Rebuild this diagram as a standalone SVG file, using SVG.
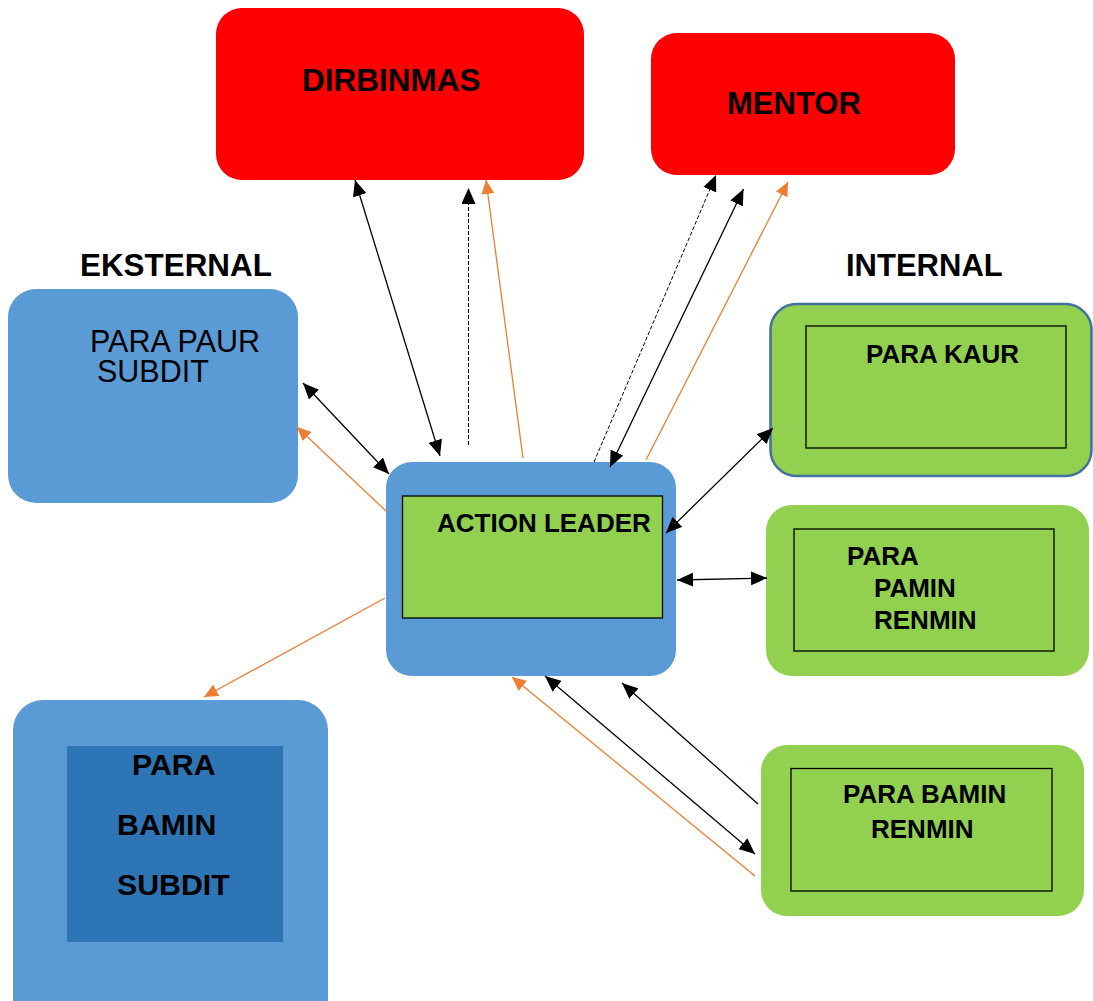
<svg xmlns="http://www.w3.org/2000/svg" width="1093" height="1001" viewBox="0 0 1093 1001">
<style>
text{font-family:"Liberation Sans",Arial,sans-serif;fill:#000}
.b{font-weight:bold}
.red{fill:#FF0000}
.blue{fill:#5B9BD5}
.green{fill:#92D050}
.inner{fill:#92D050;stroke:#000;stroke-width:1.3}
.k{stroke:#000;stroke-width:1.3;fill:none}
.d{stroke:#000;stroke-width:1;fill:none;stroke-dasharray:4 2}
.o{stroke:#ED7D31;stroke-width:1.3;fill:none}
</style>
<defs>
<marker id="ak" markerUnits="userSpaceOnUse" markerWidth="17" markerHeight="14" refX="16" refY="7" orient="auto-start-reverse"><path d="M0,0 L16,7 L0,14 z" fill="#000"/></marker>
<marker id="ao" markerUnits="userSpaceOnUse" markerWidth="15" markerHeight="13" refX="14" refY="6.5" orient="auto-start-reverse"><path d="M0,0 L14,6.5 L0,13 z" fill="#ED7D31"/></marker>
</defs>
<rect width="1093" height="1001" fill="#fff"/>
<g id="label-eksternal"><text class="b" x="80" y="276" font-size="31.4">EKSTERNAL</text></g>
<g id="label-internal"><text class="b" x="846" y="276" font-size="31">INTERNAL</text></g>
<g id="dirbinmas">
<rect class="red" x="216" y="8" width="368" height="172" rx="26"/>
<text class="b" x="302" y="91" font-size="31.5">DIRBINMAS</text>
</g>
<g id="mentor">
<rect class="red" x="651" y="33" width="304" height="142" rx="26"/>
<text class="b" x="727" y="114" font-size="31">MENTOR</text>
</g>
<g id="para-paur-subdit">
<rect class="blue" x="8" y="289" width="290" height="214" rx="28"/>
<text x="90" y="352" font-size="30.5">PARA PAUR</text>
<text x="97" y="382" font-size="30.5">SUBDIT</text>
</g>
<g id="para-bamin-subdit">
<rect class="blue" x="13" y="700" width="315" height="330" rx="30"/>
<rect x="67" y="746" width="216" height="196" fill="#2E75B6"/>
<text class="b" x="132" y="775" font-size="30.3">PARA</text>
<text class="b" x="117" y="835" font-size="30.3">BAMIN</text>
<text class="b" x="117" y="895" font-size="30.3">SUBDIT</text>
</g>
<g id="action-leader">
<rect class="blue" x="386" y="462" width="290" height="214" rx="26"/>
<rect class="inner" x="402.5" y="496" width="260" height="122"/>
<text class="b" x="437" y="532" font-size="26">ACTION LEADER</text>
</g>
<g id="para-kaur">
<rect class="green" x="770.5" y="304" width="321" height="172" rx="26" stroke="#41719C" stroke-width="2.5"/>
<rect class="inner" x="806" y="326" width="260" height="122"/>
<text class="b" x="866" y="363" font-size="26">PARA KAUR</text>
</g>
<g id="para-pamin-renmin">
<rect class="green" x="766" y="505" width="323" height="171" rx="26"/>
<rect class="inner" x="794" y="529" width="260" height="122"/>
<text class="b" x="847" y="565" font-size="26">PARA</text>
<text class="b" x="874" y="597" font-size="26">PAMIN</text>
<text class="b" x="874" y="629" font-size="26">RENMIN</text>
</g>
<g id="para-bamin-renmin">
<rect class="green" x="761" y="745" width="323" height="171" rx="26"/>
<rect class="inner" x="791" y="768.5" width="261" height="122.5"/>
<text class="b" x="843" y="803" font-size="26">PARA BAMIN</text>
<text class="b" x="871" y="838" font-size="26">RENMIN</text>
</g>
<g id="connectors">
<line class="k" x1="355" y1="180" x2="440" y2="456" marker-start="url(#ak)" marker-end="url(#ak)"/>
<line class="d" x1="468.5" y1="445" x2="468.5" y2="188" marker-end="url(#ak)"/>
<line class="o" x1="523" y1="458" x2="486" y2="180" marker-end="url(#ao)"/>
<line class="d" x1="594" y1="462" x2="716" y2="175" marker-end="url(#ak)"/>
<line class="k" x1="610" y1="467" x2="743.5" y2="189" marker-start="url(#ak)" marker-end="url(#ak)"/>
<line class="o" x1="646" y1="460" x2="788" y2="182" marker-end="url(#ao)"/>
<line class="k" x1="303" y1="383" x2="389" y2="474" marker-start="url(#ak)" marker-end="url(#ak)"/>
<line class="o" x1="386" y1="511" x2="297" y2="427" marker-end="url(#ao)"/>
<line class="o" x1="385" y1="598" x2="204" y2="697" marker-end="url(#ao)"/>
<line class="k" x1="773" y1="428" x2="666" y2="533" marker-start="url(#ak)" marker-end="url(#ak)"/>
<line class="k" x1="677" y1="580" x2="767" y2="578" marker-start="url(#ak)" marker-end="url(#ak)"/>
<line class="o" x1="755" y1="876" x2="512" y2="677" marker-end="url(#ao)"/>
<line class="k" x1="545" y1="676" x2="755" y2="854" marker-start="url(#ak)" marker-end="url(#ak)"/>
<line class="k" x1="758" y1="804" x2="622" y2="683" marker-end="url(#ak)"/>
</g>
</svg>
